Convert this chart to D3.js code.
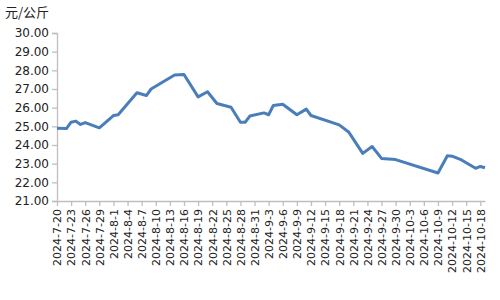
<!DOCTYPE html>
<html><head><meta charset="utf-8">
<script src="https://cdn.jsdelivr.net/npm/d3@7"></script>
<style>body{margin:0;background:#fff}svg{display:block}</style>
</head><body>
<svg id="c" width="500" height="300"></svg>
<script>
const unitLabel = "元/公斤";
const dates = ["2024-07-20","2024-07-22","2024-07-23","2024-07-24","2024-07-25","2024-07-26","2024-07-29",
"2024-08-01","2024-08-02","2024-08-06","2024-08-08","2024-08-09","2024-08-14","2024-08-16","2024-08-19",
"2024-08-21","2024-08-23","2024-08-26","2024-08-28","2024-08-29","2024-08-30","2024-09-02","2024-09-03",
"2024-09-04","2024-09-06","2024-09-09","2024-09-11","2024-09-12","2024-09-18","2024-09-20","2024-09-23",
"2024-09-25","2024-09-27","2024-09-30","2024-10-09","2024-10-11","2024-10-12","2024-10-14","2024-10-17",
"2024-10-18","2024-10-19"];
const prices = [24.9,24.88,25.22,25.28,25.1,25.2,24.92,
25.58,25.62,26.8,26.65,27.0,27.75,27.78,26.58,
26.85,26.22,26.02,25.22,25.22,25.55,25.72,25.62,
26.12,26.18,25.62,25.92,25.58,25.08,24.7,23.55,
23.92,23.28,23.22,22.5,23.42,23.4,23.2,22.75,
22.85,22.78];
const tickLabels = ["2024-7-20","2024-7-23","2024-7-26","2024-7-29","2024-8-1","2024-8-4","2024-8-7",
"2024-8-10","2024-8-13","2024-8-16","2024-8-19","2024-8-22","2024-8-25","2024-8-28","2024-8-31",
"2024-9-3","2024-9-6","2024-9-9","2024-9-12","2024-9-15","2024-9-18","2024-9-21","2024-9-24",
"2024-9-27","2024-9-30","2024-10-3","2024-10-6","2024-10-9","2024-10-12","2024-10-15","2024-10-18"];
const yTicks = [21,22,23,24,25,26,27,28,29,30];

const parse = d3.timeParse("%Y-%m-%d");
const parseTick = d3.timeParse("%Y-%m-%d");
const data = dates.map((d,i)=>({t:parse(d), v:prices[i]}));
const tickDates = tickLabels.map(s=>parseTick(s));

const svg = d3.select("#c");
const font = "'DejaVu Sans', Verdana, sans-serif";
const x = d3.scaleTime().domain([parse("2024-07-20"), parse("2024-10-19")]).range([57, 485]);
const y = d3.scaleLinear().domain([21,30]).range([201, 33]);

// y axis
const ya = svg.append("g").attr("transform","translate(57,0)")
  .call(d3.axisLeft(y).tickValues(yTicks).tickFormat(d3.format(".2f")).tickSize(5).tickPadding(3));
ya.select(".domain").attr("stroke","#bfbfbf").attr("stroke-width",1.3);
ya.selectAll(".tick line").attr("stroke","#bfbfbf").attr("stroke-width",1.3);
ya.selectAll("text").attr("font-family",font).attr("font-size","12px").attr("fill","#222");

// x axis
const xa = svg.append("g").attr("transform","translate(0,201)")
  .call(d3.axisBottom(x).tickValues(tickDates).tickFormat((d,i)=>tickLabels[i]).tickSize(5).tickSizeOuter(0));
xa.select(".domain").attr("stroke","#bfbfbf").attr("stroke-width",1.3);
xa.selectAll(".tick line").attr("stroke","#bfbfbf").attr("stroke-width",1.3);
xa.selectAll("text").attr("font-family",font).attr("font-size","11px").attr("fill","#222")
  .attr("text-anchor","end").attr("transform","rotate(-90)")
  .attr("x",-8).attr("y",0).attr("dy","0.35em");

// line
svg.append("path").datum(data)
  .attr("fill","none").attr("stroke","#4a7ebb").attr("stroke-width",3)
  .attr("stroke-linejoin","round")
  .attr("d", d3.line().x(d=>x(d.t)).y(d=>y(d.v)));

svg.append("text").attr("x",5).attr("y",17).attr("font-family","'Noto Sans CJK SC', sans-serif")
  .attr("font-size","13px").attr("fill","#222").text(unitLabel);
</script>
</body></html>
